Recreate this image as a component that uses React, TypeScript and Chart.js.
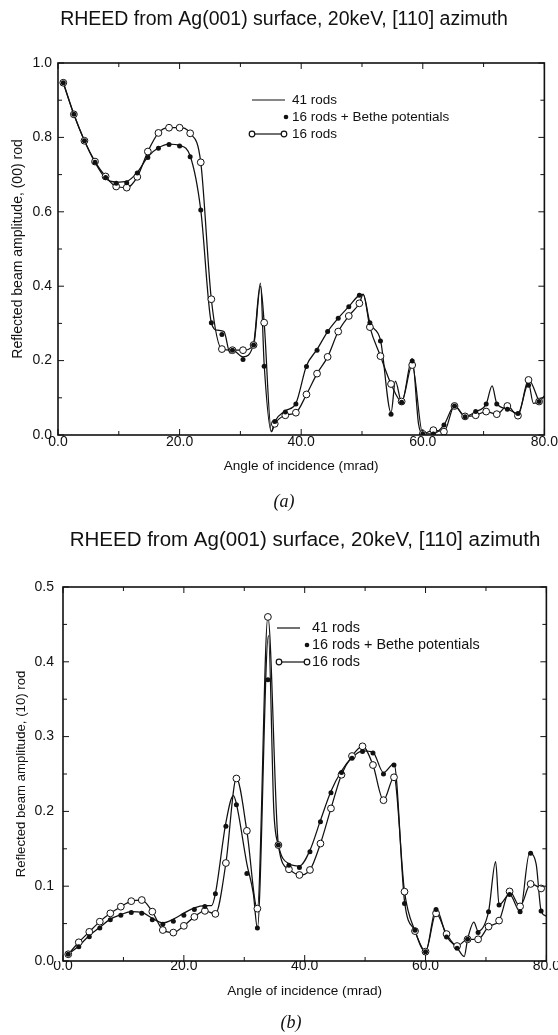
import React, { useEffect, useRef } from "react";
import { Chart, registerables } from "chart.js";

Chart.register(...registerables);

const SANS = "'Liberation Sans', Arial, Helvetica, sans-serif";
const SERIF = "'Liberation Serif', 'Times New Roman', serif";

const TITLE_TEXT = "RHEED from Ag(001) surface, 20keV, [110] azimuth";
const X_TITLE = "Angle of incidence (mrad)";
const SERIES_NAMES = ["41 rods", "16 rods + Bethe potentials", "16 rods"];

// Angles (mrad) at which the 16-rod calculations are marked
const angleGrid = [
  0.87, 2.61, 4.35, 6.09, 7.83, 9.57, 11.3, 13.04, 14.78, 16.52, 18.26, 20.0,
  21.74, 23.48, 25.22, 26.96, 28.7, 30.43, 32.17, 33.91, 35.65, 37.39, 39.13,
  40.87, 42.61, 44.35, 46.09, 47.83, 49.57, 51.3, 53.04, 54.78, 56.52, 58.26,
  60.0, 61.74, 63.48, 65.22, 66.96, 68.7, 70.43, 72.17, 73.91, 75.65, 77.39,
  79.13,
];

// ---------- (a) (00) rod ----------
const aBethe = [
  0.947, 0.862, 0.791, 0.733, 0.692, 0.677, 0.678, 0.704, 0.746, 0.771, 0.781,
  0.777, 0.748, 0.605, 0.302, 0.27, 0.228, 0.203, 0.242, 0.185, 0.036, 0.062,
  0.083, 0.184, 0.228, 0.278, 0.314, 0.345, 0.376, 0.302, 0.253, 0.056, 0.088,
  0.199, 0.003, 0.003, 0.027, 0.078, 0.049, 0.063, 0.083, 0.083, 0.069, 0.058,
  0.134, 0.09,
];
const a16 = [
  0.947, 0.862, 0.791, 0.735, 0.695, 0.668, 0.665, 0.694, 0.762, 0.812, 0.826,
  0.826, 0.811, 0.733, 0.365, 0.231, 0.228, 0.228, 0.242, 0.302, 0.03, 0.053,
  0.06, 0.109, 0.165, 0.21, 0.278, 0.32, 0.354, 0.29, 0.212, 0.137, 0.09,
  0.188, 0.003, 0.013, 0.009, 0.078, 0.05, 0.053, 0.063, 0.056, 0.078, 0.052,
  0.148, 0.09,
];
const a16ExtraX = [33.3, 35.1, 50.2];
const a16ExtraY = [0.4, 0.009, 0.378];
const a41X = [
  0.87, 2.61, 4.35, 6.09, 7.83, 9.57, 11.3, 13.04, 14.78, 16.52, 18.26, 20.0,
  21.74, 23.48, 25.22, 26.2, 27.3, 28.3, 28.7, 30.43, 32.17, 33.3, 33.91, 35.1,
  35.65, 37.39, 39.13, 40.87, 42.61, 44.35, 46.09, 47.83, 49.57, 50.2, 51.3,
  53.04, 54.78, 55.5, 56.52, 58.26, 59.3, 60.0, 61.74, 63.48, 65.22, 66.96,
  68.7, 70.43, 71.4, 72.17, 73.91, 75.65, 77.39, 78.2, 79.13, 80.0,
];
const a41Y = [
  0.947, 0.862, 0.791, 0.733, 0.69, 0.68, 0.682, 0.706, 0.748, 0.772, 0.782,
  0.778, 0.75, 0.605, 0.302, 0.282, 0.278, 0.22, 0.228, 0.21, 0.245, 0.408,
  0.19, 0.009, 0.036, 0.065, 0.085, 0.186, 0.23, 0.278, 0.314, 0.345, 0.376,
  0.378, 0.302, 0.255, 0.06, 0.145, 0.088, 0.205, 0.03, 0.003, 0.003, 0.027,
  0.078, 0.05, 0.063, 0.083, 0.132, 0.085, 0.07, 0.058, 0.138, 0.085, 0.09,
  0.105,
];

// ---------- (b) (10) rod ----------
const bBethe = [
  0.009, 0.019, 0.0325, 0.044, 0.055, 0.061, 0.065, 0.064, 0.055, 0.049, 0.053,
  0.061, 0.069, 0.073, 0.09, 0.18, 0.209, 0.117, 0.044, 0.376, 0.155, 0.128,
  0.125, 0.146, 0.186, 0.225, 0.252, 0.271, 0.28, 0.278, 0.25, 0.262, 0.077,
  0.041, 0.0125, 0.069, 0.032, 0.017, 0.029, 0.038, 0.066, 0.075, 0.089, 0.066,
  0.144, 0.067,
];
const b16 = [
  0.009, 0.025, 0.039, 0.0526, 0.0637, 0.0726, 0.08, 0.0815, 0.066, 0.0414,
  0.038, 0.047, 0.059, 0.067, 0.063, 0.131, 0.244, 0.174, 0.07, 0.46, 0.155,
  0.1226, 0.115, 0.1217, 0.157, 0.204, 0.249, 0.274, 0.287, 0.262, 0.215,
  0.2456, 0.0927, 0.04, 0.0125, 0.0637, 0.036, 0.02, 0.029, 0.029, 0.046,
  0.054, 0.093, 0.073, 0.103, 0.097,
];
const b16ExtraX: number[] = [];
const b16ExtraY: number[] = [];
const b41X = [
  0.87, 2.61, 4.35, 6.09, 7.83, 9.57, 11.3, 13.04, 14.78, 16.52, 18.26, 20.0,
  21.74, 23.48, 24.6, 25.22, 26.96, 28.2, 28.7, 30.43, 31.5, 32.17, 34.0, 34.9,
  35.65, 37.39, 39.13, 40.87, 42.61, 44.35, 46.09, 47.83, 49.57, 51.3, 53.04,
  54.78, 56.52, 58.26, 60.0, 61.74, 63.48, 65.22, 66.4, 66.96, 68.0, 68.7,
  70.43, 71.6, 72.17, 73.91, 75.65, 77.2, 78.3, 79.13, 80.0,
];
const b41Y = [
  0.009, 0.02, 0.034, 0.045, 0.056, 0.062, 0.066, 0.065, 0.057, 0.051, 0.056,
  0.064, 0.071, 0.074, 0.074, 0.09, 0.185, 0.221, 0.21, 0.13, 0.09, 0.044,
  0.435, 0.2, 0.155, 0.13, 0.127, 0.148, 0.188, 0.227, 0.254, 0.272, 0.281,
  0.279, 0.252, 0.264, 0.08, 0.04, 0.0125, 0.07, 0.033, 0.018, 0.006, 0.029,
  0.052, 0.04, 0.066, 0.133, 0.075, 0.089, 0.066, 0.144, 0.13, 0.067, 0.06,
];

type Pt = { x: number; y: number; marker?: boolean };

function zipPts(xs: number[], ys: number[]): Pt[] {
  return xs.map((x, i) => ({ x, y: ys[i] }));
}
function linePts(xs: number[], ys: number[], exX: number[], exY: number[]): Pt[] {
  const pts: Pt[] = xs.map((x, i) => ({ x, y: ys[i], marker: true }));
  exX.forEach((x, i) => pts.push({ x, y: exY[i], marker: false }));
  pts.sort((p, q) => p.x - q.x);
  return pts;
}

const decorPlugin = {
  id: "decor",
  afterDraw(chart: any, _args: any, opts: any) {
    const { ctx, chartArea: a } = chart;
    const xs = chart.scales.x;
    const ys = chart.scales.y;
    ctx.save();
    ctx.strokeStyle = "#111";
    ctx.lineWidth = 1.6;
    ctx.strokeRect(a.left, a.top, a.right - a.left, a.bottom - a.top);

    // inward tick marks (major + minor), on all four sides
    ctx.lineWidth = 1;
    const xt = xs.ticks.map((t: any) => t.value);
    const yt = ys.ticks.map((t: any) => t.value);
    const tickSet = (vals: number[]) => {
      const out: { v: number; major: boolean }[] = [];
      vals.forEach((v, i) => {
        out.push({ v, major: true });
        if (i < vals.length - 1) out.push({ v: (v + vals[i + 1]) / 2, major: false });
      });
      return out;
    };
    ctx.beginPath();
    tickSet(xt).forEach(({ v, major }) => {
      const p = xs.getPixelForValue(v);
      const L = major ? 6 : 4;
      ctx.moveTo(p, a.bottom);
      ctx.lineTo(p, a.bottom - L);
      ctx.moveTo(p, a.top);
      ctx.lineTo(p, a.top + L);
    });
    tickSet(yt).forEach(({ v, major }) => {
      const p = ys.getPixelForValue(v);
      const L = major ? 6 : 4;
      ctx.moveTo(a.left, p);
      ctx.lineTo(a.left + L, p);
      ctx.moveTo(a.right, p);
      ctx.lineTo(a.right - L, p);
    });
    ctx.stroke();

    // title
    ctx.fillStyle = "#111";
    ctx.textAlign = "center";
    ctx.textBaseline = "middle";
    ctx.font = `${opts.titleSize}px ${SANS}`;
    ctx.fillText(TITLE_TEXT, opts.titleX, opts.titleY);

    // caption
    ctx.font = `italic ${opts.capSize}px ${SERIF}`;
    ctx.fillText(opts.caption, opts.capX, opts.capY);

    // legend
    const lg = opts.legend;
    const ds = chart.data.datasets;
    ctx.font = `${lg.size}px ${SANS}`;
    ctx.textAlign = "left";
    ctx.lineWidth = 1.2;
    ctx.strokeStyle = "#111";
    // 41 rods
    ctx.beginPath();
    ctx.moveTo(lg.x1, lg.y);
    ctx.lineTo(lg.x2, lg.y);
    ctx.stroke();
    ctx.fillText(ds[0].label, lg.tx, lg.y);
    // Bethe
    const y2 = lg.y + lg.dy;
    ctx.beginPath();
    ctx.arc(lg.dotX, y2, 2.3, 0, Math.PI * 2);
    ctx.fill();
    ctx.fillText(ds[1].label, lg.tx, y2);
    // 16 rods
    const y3 = lg.y + 2 * lg.dy;
    ctx.beginPath();
    ctx.moveTo(lg.c1, y3);
    ctx.lineTo(lg.c2, y3);
    ctx.stroke();
    [lg.c1, lg.c2].forEach((cx: number) => {
      ctx.beginPath();
      ctx.arc(cx, y3, 2.8, 0, Math.PI * 2);
      ctx.fillStyle = "#fff";
      ctx.fill();
      ctx.stroke();
    });
    ctx.fillStyle = "#111";
    ctx.fillText(ds[2].label, lg.tx, y3);
    ctx.restore();
  },
};

type PanelCfg = {
  height: number;
  bethe: number[];
  s16: number[];
  exX: number[];
  exY: number[];
  l41X: number[];
  l41Y: number[];
  yMax: number;
  yStep: number;
  yTitle: string;
  pad: { top: number; right: number; bottom: number };
  yWidth: number;
  xHeight: number;
  yLabelPad: number;
  yTitlePad: number;
  xLabelPad: number;
  yTitleSize: number;
  decor: any;
};

function Panel({ cfg }: { cfg: PanelCfg }) {
  const ref = useRef<HTMLCanvasElement | null>(null);
  useEffect(() => {
    if (!ref.current) return;
    const ink = "#111";
    const chart = new Chart(ref.current, {
      type: "line",
      data: {
        datasets: [
          {
            label: SERIES_NAMES[0],
            data: zipPts(cfg.l41X, cfg.l41Y),
            borderColor: ink,
            borderWidth: 1.25,
            pointRadius: 0,
            cubicInterpolationMode: "monotone",
            order: 3,
          },
          {
            label: SERIES_NAMES[1],
            data: zipPts(angleGrid, cfg.bethe),
            showLine: false,
            pointRadius: 2.5,
            pointBackgroundColor: ink,
            pointBorderColor: ink,
            pointBorderWidth: 0,
            order: 1,
          },
          {
            label: SERIES_NAMES[2],
            data: linePts(angleGrid, cfg.s16, cfg.exX, cfg.exY),
            borderColor: ink,
            borderWidth: 1.25,
            cubicInterpolationMode: "monotone",
            pointRadius: (c: any) => (c.raw && c.raw.marker ? 3.4 : 0),
            pointBackgroundColor: "#fff",
            pointBorderColor: ink,
            pointBorderWidth: 1,
            order: 2,
          },
        ] as any,
      },
      options: {
        animation: false,
        responsive: false,
        parsing: false as any,
        layout: { padding: { left: 0, ...cfg.pad } },
        plugins: {
          legend: { display: false },
          tooltip: { enabled: false },
          title: { display: false },
          decor: cfg.decor,
        } as any,
        scales: {
          x: {
            type: "linear",
            min: 0,
            max: 80,
            grid: { display: false, drawTicks: false },
            border: { display: false },
            afterFit: (s: any) => {
              s.height = cfg.xHeight;
            },
            ticks: {
              stepSize: 20,
              autoSkip: false,
              maxRotation: 0,
              padding: cfg.xLabelPad,
              color: ink,
              font: { family: SANS, size: 14, lineHeight: 1 },
              callback: (v: any) => Number(v).toFixed(1),
            },
            title: {
              display: true,
              text: X_TITLE,
              color: ink,
              font: { family: SANS, size: 13.6 },
              padding: { top: 0, bottom: 6 },
            },
          },
          y: {
            type: "linear",
            min: 0,
            max: cfg.yMax,
            grid: { display: false, drawTicks: false },
            border: { display: false },
            afterFit: (s: any) => {
              s.width = cfg.yWidth;
            },
            ticks: {
              stepSize: cfg.yStep,
              autoSkip: false,
              padding: cfg.yLabelPad,
              color: ink,
              font: { family: SANS, size: 14 },
              callback: (v: any) => Number(v).toFixed(1),
            },
            title: {
              display: true,
              text: cfg.yTitle,
              color: ink,
              font: { family: SANS, size: cfg.yTitleSize },
              padding: { top: cfg.yTitlePad, bottom: 0 },
            },
          },
        },
      } as any,
      plugins: [decorPlugin],
    });
    return () => chart.destroy();
  }, [cfg]);
  return (
    <canvas
      ref={ref}
      width={558}
      height={cfg.height}
      style={{ display: "block", width: 558, height: cfg.height }}
    />
  );
}

const panelA: PanelCfg = {
  height: 515,
  bethe: aBethe,
  s16: a16,
  exX: a16ExtraX,
  exY: a16ExtraY,
  l41X: a41X,
  l41Y: a41Y,
  yMax: 1.0,
  yStep: 0.2,
  yTitle: "Reflected beam amplitude, (00) rod",
  pad: { top: 63, right: 13, bottom: 35 },
  yWidth: 58,
  xHeight: 45,
  yLabelPad: 6,
  yTitlePad: 10,
  xLabelPad: 0,
  yTitleSize: 14,
  decor: {
    titleSize: 19.5,
    titleX: 284,
    titleY: 20,
    caption: "(a)",
    capSize: 18,
    capX: 284,
    capY: 502,
    legend: { x1: 252, x2: 285, y: 100, dy: 17, dotX: 286, c1: 252, c2: 284, tx: 292, size: 13.5 },
  },
};

const panelB: PanelCfg = {
  height: 520,
  bethe: bBethe,
  s16: b16,
  exX: b16ExtraX,
  exY: b16ExtraY,
  l41X: b41X,
  l41Y: b41Y,
  yMax: 0.5,
  yStep: 0.1,
  yTitle: "Reflected beam amplitude, (10) rod",
  pad: { top: 72, right: 11, bottom: 30 },
  yWidth: 63,
  xHeight: 44,
  yLabelPad: 9,
  yTitlePad: 13,
  xLabelPad: -2,
  yTitleSize: 13.2,
  decor: {
    titleSize: 20.5,
    titleX: 305,
    titleY: 25,
    caption: "(b)",
    capSize: 18,
    capX: 291,
    capY: 508,
    legend: { x1: 277, x2: 300, y: 113, dy: 17, dotX: 307, c1: 279, c2: 307, tx: 312, size: 14.4 },
  },
};

export default function App() {
  return (
    <div style={{ position: "absolute", left: 0, top: 0, width: 558, height: 1035, background: "#fff" }}>
      <Panel cfg={panelA} />
      <Panel cfg={panelB} />
    </div>
  );
}
